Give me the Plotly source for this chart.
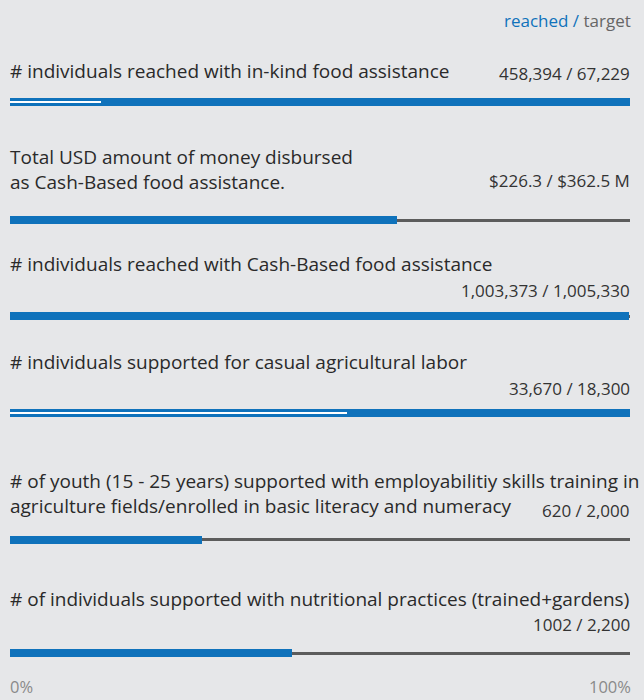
import plotly.graph_objects as go

labels = [
    "# individuals reached with in-kind food assistance",
    "Total USD amount of money disbursed<br>as Cash-Based food assistance.",
    "# individuals reached with Cash-Based food assistance",
    "# individuals supported for casual agricultural labor",
    "# of youth (15 - 25 years) supported with employabilitiy skills training in<br>agriculture fields/enrolled in basic literacy and numeracy",
    "# of individuals supported with nutritional practices (trained+gardens)",
]
reached = [458394, 226.3, 1003373, 33670, 620, 1002]
target = [67229, 362.5, 1005330, 18300, 2000, 2200]
value_text = [
    "458,394 / 67,229",
    "$226.3 / $362.5 M",
    "1,003,373 / 1,005,330",
    "33,670 / 18,300",
    "620 / 2,000",
    "1002 / 2,200",
]

# layout positions (pixels from top)
bar_y = [102, 220, 316, 413, 539.5, 653]
label_y = [71, 169, 264, 362, 493.5, 599]
value_y = [73, 180, 290, 388, 510, 624]

BLUE = "#0f72bb"
GREY = "#5c5c5c"
BG = "#e6e7e9"
FONT = "Open Sans"

blue_len = [min(r / t, 1.0) if t else 1.0 for r, t in zip(reached, target)]
white_len = [t / r if r > t else 0 for r, t in zip(reached, target)]
grey_len = [1.0 if r < t else 0 for r, t in zip(reached, target)]

fig = go.Figure()
fig.add_trace(go.Bar(orientation="h", x=grey_len, y=bar_y, width=3,
                     marker=dict(color=GREY, line=dict(width=0)), hoverinfo="skip"))
fig.add_trace(go.Bar(orientation="h", x=blue_len, y=bar_y, width=8,
                     marker=dict(color=BLUE, line=dict(width=0)), hoverinfo="skip"))
fig.add_trace(go.Bar(orientation="h", x=white_len, y=bar_y, width=2.5,
                     marker=dict(color="#ffffff", line=dict(width=0)), hoverinfo="skip"))

ann = []
for lab, ly in zip(labels, label_y):
    ann.append(dict(x=0, y=ly, xref="x", yref="y", text=lab, showarrow=False,
                    xanchor="left", yanchor="middle", align="left", xshift=-2,
                    font=dict(size=19, color="#2a2a2a", family=FONT)))
for vt, vy in zip(value_text, value_y):
    ann.append(dict(x=1, y=vy, xref="x", yref="y", text=vt, showarrow=False,
                    xanchor="right", yanchor="middle", align="right", xshift=2,
                    font=dict(size=17, color="#333333", family=FONT)))
ann.append(dict(x=1, y=20, xref="x", yref="y", showarrow=False, xanchor="right", yanchor="middle",
                xshift=3,
                text=f"<span style='color:{BLUE}'>reached /</span> <span style='color:#666666'>target</span>",
                font=dict(size=17, family=FONT)))
ann.append(dict(x=0, y=686, xref="x", yref="y", text="0%", showarrow=False, xanchor="left",
                yanchor="middle", xshift=-2, font=dict(size=16.5, color="#8a8a8a", family=FONT)))
ann.append(dict(x=1, y=686, xref="x", yref="y", text="100%", showarrow=False, xanchor="right",
                yanchor="middle", xshift=3, font=dict(size=16.5, color="#8a8a8a", family=FONT)))

fig.update_layout(
    width=644, height=700,
    margin=dict(l=10, r=14, t=0, b=0),
    paper_bgcolor=BG, plot_bgcolor=BG,
    barmode="overlay", showlegend=False, bargap=0,
    xaxis=dict(range=[0, 1], visible=False, fixedrange=True),
    yaxis=dict(range=[700, 0], visible=False, fixedrange=True),
    annotations=ann,
)
fig.write_html("out.html", config={"displayModeBar": False})
